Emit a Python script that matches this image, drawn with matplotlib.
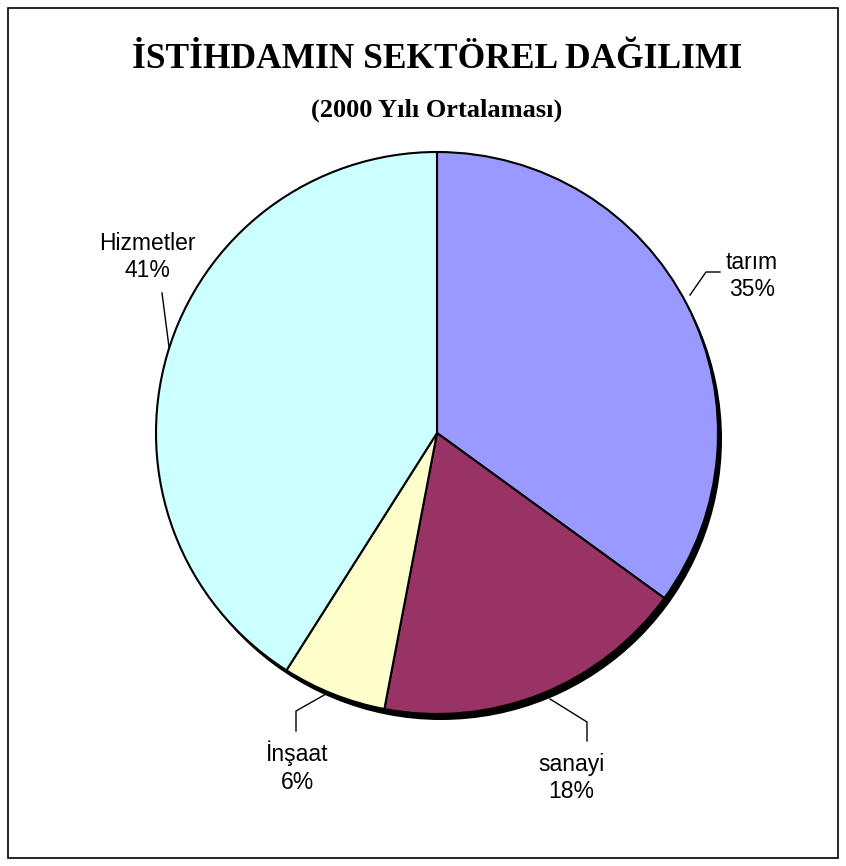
import matplotlib.pyplot as plt
from matplotlib.patches import Circle, Rectangle

# data
labels = ["tarım", "sanayi", "İnşaat", "Hizmetler"]
shares = [35, 18, 6, 41]
colors = ["#9999ff", "#993366", "#ffffcc", "#ccffff"]

title = "İSTİHDAMIN SEKTÖREL DAĞILIMI"
subtitle = "(2000 Yılı Ortalaması)"

W, H = 846, 866
fig = plt.figure(figsize=(W / 100, H / 100), dpi=100)
ax = fig.add_axes([0, 0, 1, 1])

# outer frame
ax.add_patch(Rectangle((8, 8), W - 16, H - 16, fill=False, ec="black", lw=1.2))

cx, cy, r = 437, H - 433, 281

# shadow
ax.add_patch(Circle((cx + 4, cy - 6), r, fc="black", ec="none", zorder=1))

wedges, _ = ax.pie(shares, colors=colors, startangle=90, counterclock=False,
                   center=(cx, cy), radius=r, frame=True,
                   wedgeprops=dict(ec="black", lw=1.5, zorder=2))
ax.set_xlim(0, W)
ax.set_ylim(0, H)
ax.set_aspect("equal")
ax.axis("off")

# labels with leader lines (pixel coords from top)
lab_pos = {
    "tarım": (752, 276),
    "sanayi": (571, 778),
    "İnşaat": (297, 767),
    "Hizmetler": (147, 257),
}
leaders = {
    "tarım": [(690, 295), (706, 272), (720, 272)],
    "sanayi": [(550, 699), (587, 722), (587, 741)],
    "İnşaat": [(326, 694), (296, 711), (296, 731)],
    "Hizmetler": [(169, 347), (162, 293)],
}
for lab, pct in zip(labels, shares):
    x, y = lab_pos[lab]
    ax.text(x, H - y, f"{lab}\n{pct}%", ha="center", va="center",
            fontsize=16.5, family="Liberation Sans", linespacing=1.25, zorder=5)
    pts = leaders[lab]
    ax.plot([p[0] for p in pts], [H - p[1] for p in pts], color="black", lw=1, zorder=5)

ax.text(437, H - 60, title, ha="center", va="center", fontsize=25.5,
        fontweight="bold", family="Liberation Serif")
ax.text(437, H - 110, subtitle, ha="center", va="center", fontsize=19,
        fontweight="bold", family="Liberation Serif")

fig.savefig("out.png", dpi=100)
